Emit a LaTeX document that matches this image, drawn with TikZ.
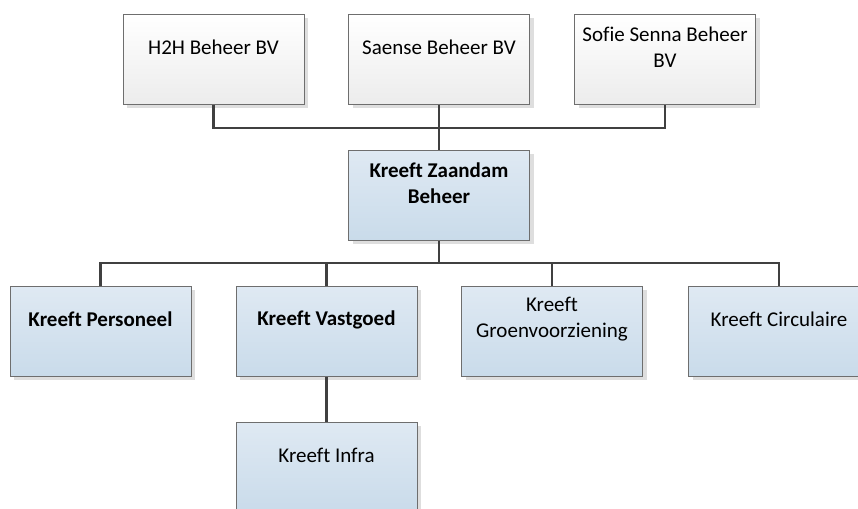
\documentclass[tikz,border=0pt]{standalone}
\usepackage{fontspec}
\setmainfont{Carlito}[Ligatures=NoCommon]
\usetikzlibrary{shadows}
\definecolor{linecol}{RGB}{64,64,64}
\definecolor{bordercol}{RGB}{110,110,110}
\definecolor{bluetop}{RGB}{223,233,243}
\definecolor{bluebot}{RGB}{201,219,234}
\definecolor{graybot}{RGB}{236,236,236}
\definecolor{shadowcol}{RGB}{222,222,222}
\newcommand{\boxtext}[1]{\parbox[c][90pt][c]{176pt}{\centering #1\par\vspace{24pt}}}
\tikzset{
  orgbox/.style={draw=bordercol, line width=0.9pt, minimum width=181pt, minimum height=90pt,
    inner sep=0pt, anchor=north, font=\fontsize{21}{26}\selectfont,
    drop shadow={shadow xshift=4pt, shadow yshift=-4pt, opacity=1, fill=shadowcol}},
  ownerbox/.style={orgbox, top color=white, bottom color=graybot},
  unitbox/.style={orgbox, top color=bluetop, bottom color=bluebot},
  conn/.style={draw=linecol, line width=2.4pt}
}
\begin{document}
\begin{tikzpicture}[x=1pt,y=-1pt]
\useasboundingbox (0,0) rectangle (858,508);
\clip (0,0) rectangle (858,508);
\node[ownerbox] (h2h) at (213.5,14) {\boxtext{H2H Beheer BV}};
\node[ownerbox] (saense) at (439,14) {\boxtext{Saense Beheer BV}};
\node[ownerbox] (sofie) at (665,14) {\boxtext{Sofie Senna Beheer\\BV}};
\node[unitbox] (zb) at (439,150) {\boxtext{\textbf{Kreeft Zaandam}\\\textbf{Beheer}}};
\node[unitbox] (pers) at (100.5,286) {\boxtext{\textbf{Kreeft Personeel}}};
\node[unitbox] (vast) at (326.5,286) {\boxtext{\textbf{Kreeft Vastgoed}}};
\node[unitbox] (groen) at (552,286) {\boxtext{Kreeft\\Groenvoorziening}};
\node[unitbox] (circ) at (779,286) {\boxtext{Kreeft Circulaire}};
\node[unitbox] (infra) at (326.5,422) {\boxtext{Kreeft Infra}};
\draw[conn] (h2h.south) -- ++(0,23) -| (sofie.south);
\draw[conn] (saense.south) -- (zb.north);
\draw[conn] (zb.south) -- ++(0,23);
\draw[conn] (pers.north) -- ++(0,-23) -| (circ.north);
\draw[conn] (vast.north) -- ++(0,-23);
\draw[conn] (groen.north) -- ++(0,-23);
\draw[conn] (vast.south) -- (infra.north);
\end{tikzpicture}
\end{document}
